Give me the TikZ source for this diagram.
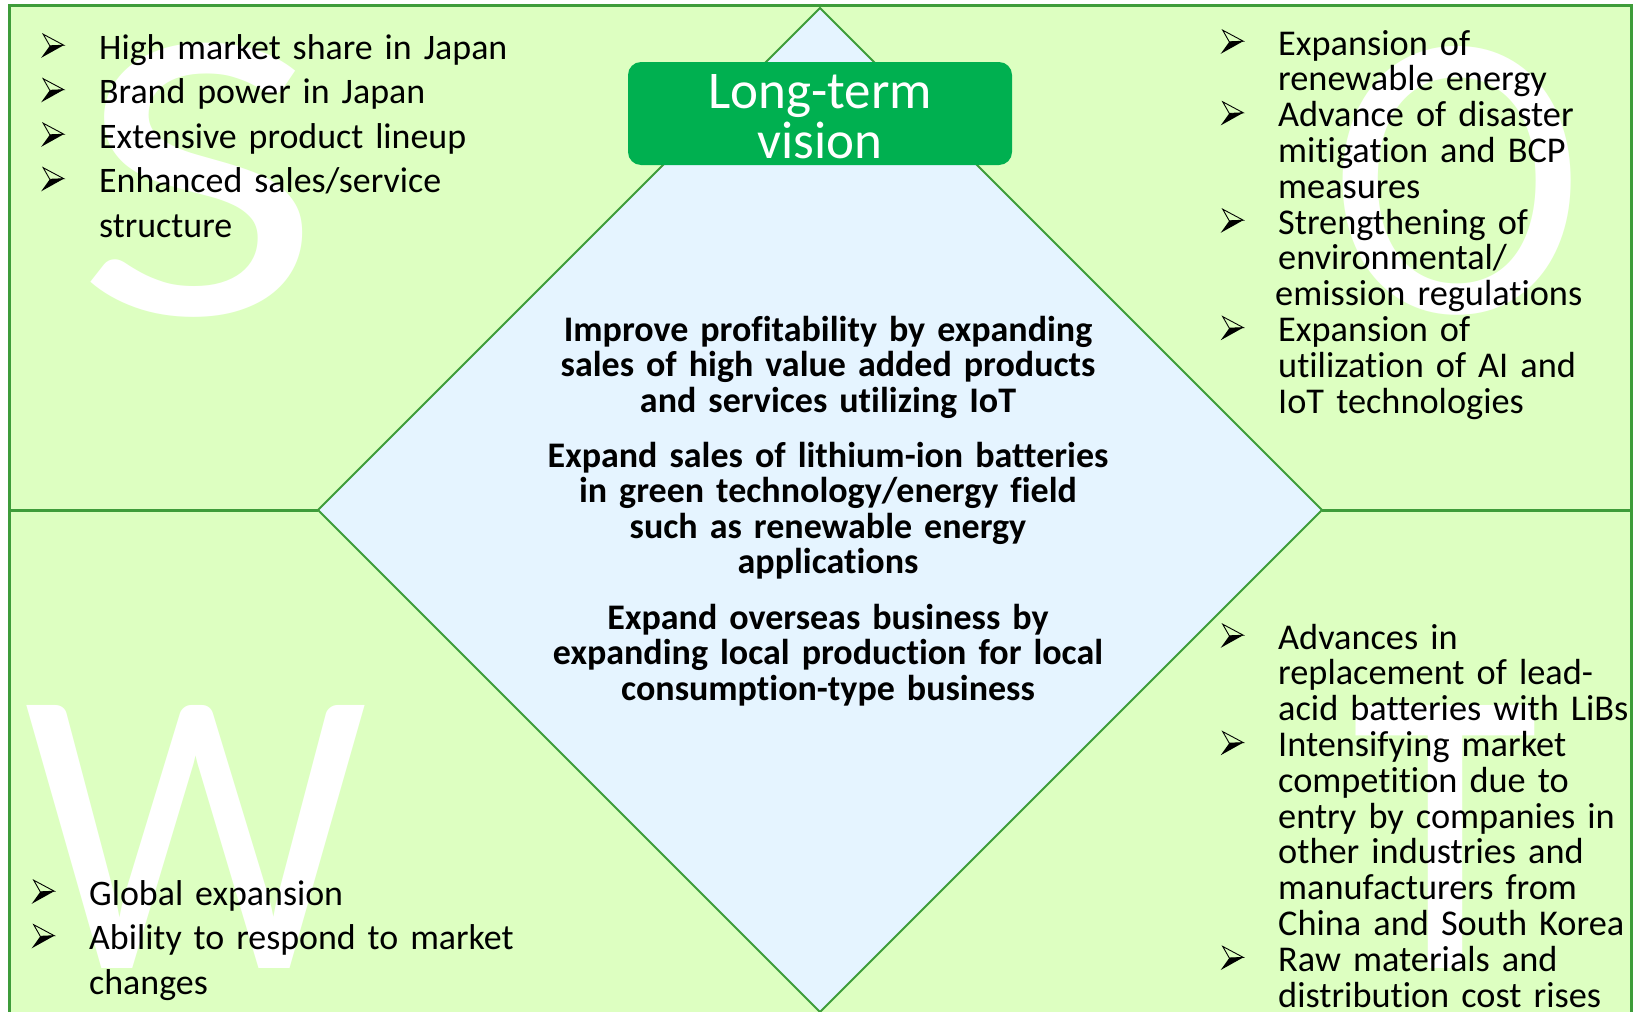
\documentclass[tikz,border=0pt]{standalone}
\usepackage{fontspec}
\usepackage{graphicx}
\setmainfont{Carlito}[Ligatures=NoCommon]
\definecolor{quadfill}{RGB}{221,255,193}
\definecolor{diafill}{RGB}{229,244,255}
\definecolor{frameline}{RGB}{62,156,58}
\definecolor{visionfill}{RGB}{0,176,80}
\begin{document}
\begin{tikzpicture}[x=1pt,y=-1pt,
  letter/.style={text=white,inner sep=0pt,anchor=base,font=\fontsize{410}{410}\selectfont},
  wide/.style={inner sep=0pt,anchor=base west,text width=520pt,align=left,font=\fontsize{35.9}{44.5}\selectfont},
  tight/.style={inner sep=0pt,anchor=base west,text width=400pt,align=left,font=\fontsize{36.3}{35.8}\selectfont},
  goal/.style={inner sep=0pt,anchor=base,text width=620pt,align=center,font=\bfseries\fontsize{36}{35.5}\selectfont},
  edge/.style={draw=frameline,line width=3pt},
  diag/.style={draw=frameline,line width=1.8pt,line join=miter},
  bullet/.pic={
    \fill[black] (-2.7,-0.2) -- (11.3,-0.8) -- (-11.3,11.8) -- cycle;
    \draw[black,line width=0.9pt,line join=miter] (-9.3,-11.8) -- (11.3,-0.8) -- (-2.7,-0.2) -- cycle;
  }]
\useasboundingbox (0,0) rectangle (1634,1012);

% quadrant background and frame corners
\coordinate (tl) at (9,5);
\coordinate (tr) at (1631,5);
\coordinate (bl) at (9,1030);
\coordinate (br) at (1631,1030);
\fill[quadfill] (tl) rectangle (br);

% large SWOT letters
\node[letter] (S) at (199,314) {\scalebox{1.3}[1.02]{S}};
\node[letter] (O) at (1457,312) {\scalebox{0.94}[1]{O}};
\node[letter] (W) at (196,968) {\scalebox{0.94}[1]{W}};
\node[letter] (T) at (1445,968) {\scalebox{0.94}[1]{T}};

% diamond corners
\coordinate (dl) at (318,510);
\coordinate (dt) at (820,8);
\coordinate (dr) at (1322,510);
\coordinate (db) at (820,1012);
\coordinate (ml) at (9,510);
\coordinate (mr) at (1631,510);
\fill[diafill] (dl) -- (dt) -- (dr) -- (db) -- cycle;
\draw[diag] (dl) -- (dt) -- (dr) -- (db) -- cycle;

% frame and middle dividers
\draw[edge] (bl) -- (tl) -- (tr) -- (br);
\draw[edge] (ml) -- (dl);
\draw[edge] (dr) -- (mr);

% strengths
\node[wide] (strengths) at (99,59) {High market share in Japan\\Brand power in Japan\\Extensive product lineup\\Enhanced sales/service\\structure};
\foreach \k in {0,1,2,3}
  \pic at (52.5,59+\k*44.5-13) {bullet};

% opportunities
\node[tight] (opps) at (1278,55) {Expansion of\\renewable energy\\Advance of disaster\\mitigation and BCP\\measures\\Strengthening of\\environmental/\\\hspace*{-3pt}emission regulations\\Expansion of\\utilization of AI and\\IoT technologies};
\foreach \k in {0,2,5,8}
  \pic at (1232,55+\k*35.8-13) {bullet};

% weaknesses
\node[wide] (weak) at (89,905) {Global expansion\\Ability to respond to market\\changes};
\foreach \k in {0,1}
  \pic at (43,905+\k*44.5-13) {bullet};

% threats
\node[tight] (threats) at (1278,649) {Advances in\\replacement of lead-\\acid batteries with LiBs\\Intensifying market\\competition due to\\entry by companies in\\other industries and\\manufacturers from\\China and South Korea\\Raw materials and\\distribution cost rises};
\foreach \k in {0,3,9}
  \pic at (1232,649+\k*35.8-13) {bullet};

% long-term goals
\node[goal] (g1) at (828,341) {Improve profitability by expanding\\sales of high value added products\\and services utilizing IoT};
\node[goal] (g2) at (828,467) {Expand sales of lithium-ion batteries\\in green technology/energy field\\such as renewable energy\\applications};
\node[goal] (g3) at (828,629) {Expand overseas business by\\expanding local production for local\\consumption-type business};

% vision banner
\node[fill=visionfill,rounded corners=13pt,minimum width=384pt,minimum height=103pt,inner sep=0pt]
      (vision) at (820,113.5) {};
\node[text=white,align=center,inner sep=0pt,font=\fontsize{53}{50}\selectfont]
      (visiontext) at (820,116.5) {Long-term\\vision};
\end{tikzpicture}
\end{document}
